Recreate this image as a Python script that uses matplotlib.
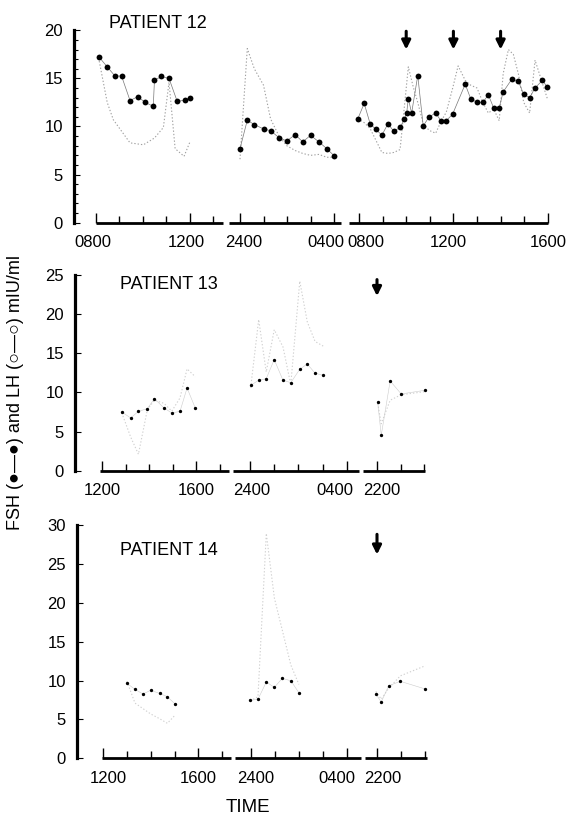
import math
import matplotlib
matplotlib.use('Agg')
import matplotlib.pyplot as plt
from matplotlib.transforms import ScaledTranslation

# ---------------- data (clock hours; 24-28 = 2400-0400 next day) ----------------
# Patient 12
p12_s1_fsh_t = [8.15, 8.49, 8.82, 9.10, 9.46, 9.79, 10.11, 10.45, 10.50, 10.79, 11.12, 11.47, 11.80, 12.01]
p12_s1_fsh = [17.2, 16.2, 15.25, 15.25, 12.7, 13.1, 12.5, 12.1, 14.8, 15.2, 15.0, 12.6, 12.75, 13.0]
p12_s1_lh_t = [8.15, 8.49, 8.75, 9.46, 10.03, 10.5, 10.88, 11.12, 11.38, 11.76, 12.01]
p12_s1_lh = [16.8, 12.5, 10.7, 8.3, 8.1, 8.8, 9.9, 14.6, 7.7, 6.9, 8.4]

p12_s2_t = [24.0, 24.31, 24.61, 25.0, 25.3, 25.66, 25.99, 26.35, 26.67, 27.0, 27.36, 27.69, 28.0]
p12_s2_fsh = [7.7, 10.65, 10.2, 9.75, 9.56, 8.84, 8.5, 9.15, 8.4, 9.08, 8.4, 7.7, 6.97]
p12_s2_lh = [6.6, 18.1, 16.0, 14.3, 10.8, 9.0, 8.0, 7.5, 7.2, 7.0, 7.1, 6.8, 6.8]

p12_s3_fsh_t = [7.95, 8.22, 8.47, 8.71, 8.97, 9.23, 9.47, 9.74, 9.92, 10.02, 10.09, 10.23,
                10.49, 10.72, 10.97, 11.25, 11.47, 11.70, 11.97, 12.50, 12.73, 13.00, 13.25,
                13.48, 13.71, 13.94, 14.11, 14.47, 14.75, 14.98, 15.23, 15.46, 15.77, 15.98]
p12_s3_fsh = [10.8, 12.4, 10.3, 9.7, 9.1, 10.3, 9.5, 9.9, 10.75, 11.4, 12.9, 11.4,
              15.3, 10.05, 11.0, 11.4, 10.6, 10.6, 11.3, 14.4, 12.9, 12.5, 12.5,
              13.3, 11.9, 11.95, 13.6, 14.9, 14.7, 13.35, 13.0, 14.0, 14.8, 14.1]
p12_s3_lh_t = [7.95, 8.22, 8.47, 8.71, 8.97, 9.23, 9.47, 9.74, 9.92, 10.09, 10.30, 10.49,
               10.72, 10.97, 11.25, 11.47, 11.70, 11.97, 12.20, 12.50, 12.73, 13.00, 13.25,
               13.48, 13.71, 13.94, 14.11, 14.33, 14.54, 14.75, 14.98, 15.23, 15.46, 15.77, 15.98]
p12_s3_lh = [10.8, 10.4, 9.8, 8.6, 7.3, 7.2, 7.3, 7.6, 12.0, 16.2, 14.1, 12.5,
             10.3, 9.6, 9.3, 10.5, 11.5, 14.0, 16.3, 14.8, 14.3, 14.0, 12.5,
             11.4, 11.8, 10.6, 15.5, 18.0, 17.5, 15.5, 12.5, 11.4, 16.9, 14.5, 12.9]
p12_arrows = [10, 12, 14]

# Patient 13
p13_s1_t = [12.84, 13.22, 13.55, 13.93, 14.23, 14.64, 14.97, 15.32, 15.62, 15.97]
p13_s1_fsh = [7.5, 6.73, 7.58, 7.92, 9.2, 8.0, 7.37, 7.58, 10.56, 8.0]
p13_s1_lh = [7.4, 4.3, 2.1, 7.8, 9.0, 8.6, 7.6, 9.3, 13.0, 12.0]
p13_s2_t = [24.04, 24.37, 24.68, 25.01, 25.37, 25.69, 26.06, 26.37, 26.69, 27.03]
p13_s2_fsh = [10.9, 11.55, 11.75, 14.18, 11.55, 11.24, 12.95, 13.63, 12.44, 12.18]
p13_s2_lh = [10.6, 19.3, 12.6, 18.0, 15.8, 11.0, 24.2, 19.0, 16.5, 15.9]
p13_s3_t = [22.03, 22.18, 22.56, 23.03, 24.05]
p13_s3_fsh = [8.77, 4.52, 11.46, 9.8, 10.27]
p13_s3_lh = [8.6, 6.0, 9.0, 9.7, 10.1]
p13_arrows = [22]

# Patient 14
p14_s1_t = [13.0, 13.34, 13.67, 14.0, 14.37, 14.7, 15.04]
p14_s1_fsh = [9.64, 8.87, 8.27, 8.74, 8.35, 7.92, 6.94]
p14_s1_lh = [9.9, 7.1, 6.4, 5.7, 5.1, 4.5, 5.6]
p14_s2_t = [23.95, 24.28, 24.63, 24.97, 25.3, 25.66, 26.0]
p14_s2_fsh = [7.46, 7.58, 9.81, 9.12, 10.28, 9.97, 8.43]
p14_s2_lh = [7.4, 7.9, 28.9, 20.6, 16.5, 12.0, 9.5]
p14_s3_t = [21.95, 22.18, 22.49, 22.98, 24.03]
p14_s3_fsh = [8.27, 7.24, 9.33, 9.9, 8.91]
p14_s3_lh = [8.6, 7.6, 9.0, 10.6, 11.9]
p14_arrows = [22]

# tick labels per segment
lab_p12 = [([8, 12], ['0800', '1200']), ([24, 28], ['2400', '0400']), ([8, 12, 16], ['0800', '1200', '1600'])]
lab_p13 = [([12, 16], ['1200', '1600']), ([24, 28], ['2400', '0400']), ([22], ['2200'])]
lab_p14 = lab_p13

# ---------------- drawing ----------------
W, H = 568, 819
plt.rcParams['font.family'] = ['Liberation Sans', 'DejaVu Sans']
fig = plt.figure(figsize=(W / 100, H / 100), dpi=100)

FS = 12


def seg_axes(x0, x1, ytop, ybot, ymax, ystep, tref, pref, pxph, line0, line1,
             ticks, labels, shifts, spine=False, minor_y=False):
    ax = fig.add_axes([x0 / W, 1 - ybot / H, (x1 - x0) / W, (ybot - ytop) / H])
    tf = lambda p: tref + (p - pref) / pxph
    ax.set_xlim(tf(x0), tf(x1))
    ax.set_ylim(0, ymax)
    ax.patch.set_alpha(0)
    for s in ['top', 'right']:
        ax.spines[s].set_visible(False)
    ax.spines['bottom'].set_bounds(tf(line0), tf(line1))
    ax.spines['bottom'].set_linewidth(2.0)
    ax.spines['bottom'].set_capstyle('butt')
    hours = list(range(math.ceil(tf(line0) - 0.05), math.floor(tf(line1) + 0.05) + 1))
    ax.set_xticks(ticks, labels=labels)
    ax.set_xticks(hours, minor=True)
    ax.tick_params(axis='x', which='both', direction='in', width=1.0, labelsize=FS, pad=9)
    ax.tick_params(axis='x', which='major', length=7)
    ax.tick_params(axis='x', which='minor', length=5)
    if spine:
        ax.spines['left'].set_linewidth(2.3)
        ax.set_yticks(list(range(0, ymax + 1, ystep)))
        if minor_y:
            ax.set_yticks(list(range(0, ymax + 1)), minor=True)
        ax.tick_params(axis='y', which='both', direction='in', width=0.8, labelsize=FS, pad=8)
        ax.tick_params(axis='y', which='major', length=4)
        ax.tick_params(axis='y', which='minor', length=3)
    else:
        ax.spines['left'].set_visible(False)
        ax.set_yticks([])
    for tk, dx in zip(ax.xaxis.get_major_ticks(), shifts):
        tk.label1.set_transform(tk.label1.get_transform() +
                                ScaledTranslation(dx / 100, 0, fig.dpi_scale_trans))
    return ax


def draw(ax, t_f, fsh, t_l, lh, big):
    ax.plot(t_l, lh, linestyle=(0, (1.2, 1.8)), color='#a0a0a0' if big else '#d0d0d0',
            lw=0.8, clip_on=False)
    ax.plot(t_f, fsh, '-', color='#777777' if big else '#cccccc', lw=0.5 if big else 0.4,
            clip_on=False)
    ax.plot(t_f, fsh, 'o', color='black', ms=4.2 if big else 2.4, mew=0, clip_on=False)


def arrows(ax, times, ytail, ytip):
    for t in times:
        ax.annotate('', xy=(t, ytip), xytext=(t, ytail),
                    arrowprops=dict(arrowstyle='-|>', lw=2.2, color='black',
                                    mutation_scale=13, shrinkA=0, shrinkB=0))


# Patient 12 (0..20, y top 30.3, bottom 222.7)
a = seg_axes(74, 225, 30.3, 222.7, 20, 5, 8, 95.7, 23.5, 95.7, 223.3, *lab_p12[0], [-3, -3],
             spine=True, minor_y=True)
draw(a, p12_s1_fsh_t, p12_s1_fsh, p12_s1_lh_t, p12_s1_lh, True)
a = seg_axes(229, 342, 30.3, 222.7, 20, 5, 24, 240, 23.5, 229.3, 340.6, *lab_p12[1], [4, -8])
draw(a, p12_s2_t, p12_s2_fsh, p12_s2_t, p12_s2_lh, True)
a = seg_axes(349, 549, 30.3, 222.7, 20, 5, 8, 359, 23.6, 349.3, 547.7, *lab_p12[2], [7, -5, 0])
draw(a, p12_s3_fsh_t, p12_s3_fsh, p12_s3_lh_t, p12_s3_lh, True)
arrows(a, p12_arrows, 19.9, 18.0)

# Patient 13 (0..25, top 274.9, bottom 470.7)
a = seg_axes(75, 231, 274.9, 470.7, 25, 5, 16, 196, 23.5, 100, 229.3, *lab_p13[0], [0, 0], spine=True)
draw(a, p13_s1_t, p13_s1_fsh, p13_s1_t, p13_s1_lh, False)
a = seg_axes(232.5, 360, 274.9, 470.7, 25, 5, 24, 249.7, 24.3, 233, 358.7, *lab_p13[1], [2, -12])
draw(a, p13_s2_t, p13_s2_fsh, p13_s2_t, p13_s2_lh, False)
a = seg_axes(362.5, 426, 274.9, 470.7, 25, 5, 22, 377, 23.5, 363, 424.7, *lab_p13[2], [4.5])
draw(a, p13_s3_t, p13_s3_fsh, p13_s3_t, p13_s3_lh, False)
arrows(a, p13_arrows, 24.4, 22.3)

# Patient 14 (0..30, top 525, bottom 758.3)
a = seg_axes(77, 232, 525, 758.3, 30, 5, 16, 198.3, 23.8, 102.3, 230.7, *lab_p14[0], [5, 0], spine=True)
draw(a, p14_s1_t, p14_s1_fsh, p14_s1_t, p14_s1_lh, False)
a = seg_axes(235, 362, 525, 758.3, 30, 5, 24, 251.3, 23.8, 235.3, 360.7, *lab_p14[1], [4, -10])
draw(a, p14_s2_t, p14_s2_fsh, p14_s2_t, p14_s2_lh, False)
a = seg_axes(364.5, 429, 525, 758.3, 30, 5, 22, 377, 23.8, 364.7, 427.3, *lab_p14[2], [6])
draw(a, p14_s3_t, p14_s3_fsh, p14_s3_t, p14_s3_lh, False)
arrows(a, p14_arrows, 28.8, 26.2)

# Texts
fig.text(108.7 / W, 1 - 23 / H, 'PATIENT 12', va='center', ha='left', fontsize=13)
fig.text(120.5 / W, 1 - 284.5 / H, 'PATIENT 13', va='center', ha='left', fontsize=13)
fig.text(120.5 / W, 1 - 550.8 / H, 'PATIENT 14', va='center', ha='left', fontsize=13)
fig.text(248 / W, 1 - 807 / H, 'TIME', va='center', ha='center', fontsize=13.5)
fig.text(16 / W, 1 - 392 / H, 'FSH (●—●) and LH (○—○) mIU/ml', rotation=90,
         va='center', ha='center', fontsize=13)

fig.savefig('out.png', dpi=100)
